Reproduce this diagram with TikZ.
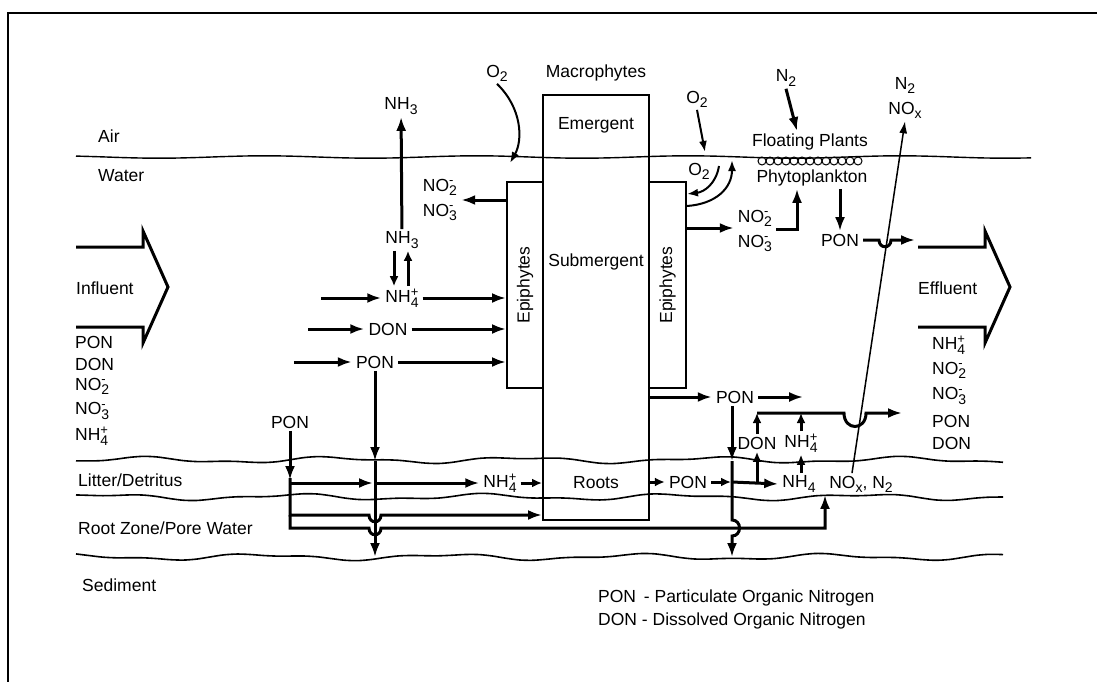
\documentclass[tikz,border=0pt]{standalone}
\usepackage{fontspec}
\setmainfont{Liberation Sans}
\usetikzlibrary{arrows.meta,calc,positioning}
\newcommand{\chsub}[2]{#1\raisebox{-.45ex}{\fontsize{14}{14}\selectfont #2}}
\newcommand{\chion}[3]{#1\rlap{\raisebox{.7ex}{\fontsize{13}{13}\selectfont #3}}\raisebox{-.45ex}{\fontsize{14}{14}\selectfont #2}}

\begin{document}
\begin{tikzpicture}[x=1pt,y=-1pt,>={Latex[length=14pt,width=10pt]},
  font=\fontsize{17.5}{25}\selectfont,every node/.style={inner xsep=4pt,inner ysep=2.5pt},
  flow/.style={line width=3pt,->},
  flowsm/.style={line width=3pt,-{Latex[length=10pt,width=9pt]}},
  pipe/.style={line width=3pt,line join=miter},
  gas/.style={line width=2pt,-{Latex[length=11pt,width=8pt]}},
  plantbox/.style={draw,line width=2pt,inner sep=0pt},
  ground/.style={line width=1.6pt}]
\useasboundingbox (0,0) rectangle (1097,682);
\draw[line width=2pt] (8,682) -- (8,13) -- (1097,13);
% surface and soil layers
\draw[line width=1.4pt] plot[smooth,domain=76:1031,samples=40] (\x,{157-1.2*sin(1.7*\x)});
\foreach \yy/\ph in {460/0,497/70,557/140}
  \draw[ground] plot[smooth,domain=76:1003,samples=70] (\x,{\yy+2.5*sin(1.9*\x+\ph)+1.2*sin(4.3*\x)});
\node[anchor=west] (air) at (94,136) {Air};
\node[anchor=west] (water) at (94,176) {Water};
\node[anchor=west] (litter) at (74,480) {Litter/Detritus};
\node[anchor=west] (rootz) at (74,528) {Root Zone/Pore Water};
\node[anchor=west] (sedi) at (78,585) {Sediment};
% plants
\node[plantbox,minimum width=106pt,minimum height=425pt] (mac) at (596,307.5) {};
\node[plantbox,minimum width=36pt,minimum height=206pt] (epL) at (525,285) {};
\node[plantbox,minimum width=37pt,minimum height=206pt] (epR) at (667.5,285) {};
\node[rotate=90] (epLt) at (525,285) {Epiphytes};
\node[rotate=90] (epRt) at (667.5,285) {Epiphytes};
\node (macl) at (596,73) {Macrophytes};
\node (emerg) at (596,125) {Emergent};
\node (subm) at (596,262) {Submergent};
\node (roots) at (596,483) {Roots};
% influent / effluent
\draw[pipe] (76,247) -- (143,247) -- (143,231) -- (168,287) -- (143,343) -- (143,327) -- (76,327);
\draw[pipe] (918,247) -- (985,247) -- (985,231) -- (1010,287) -- (985,343) -- (985,327) -- (918,327);
\node[anchor=west] (infl) at (72,288) {Influent};
\node[anchor=west] (effl) at (914,288) {Effluent};
\foreach \t/\yy [count=\i] in {PON/342,DON/364,{\chion{NO}{2}{-}}/386,{\chion{NO}{3}{-}}/411,{\chion{NH}{4}{+}}/436}
  \node[anchor=west,inner ysep=0pt] (in\i) at (71,\yy) {\t};
\foreach \t/\yy [count=\i] in {{\chion{NH}{4}{+}}/345,{\chion{NO}{2}{-}}/370,{\chion{NO}{3}{-}}/396,PON/421,DON/443}
  \node[anchor=west,inner ysep=0pt] (out\i) at (928,\yy) {\t};
% water column, left
\node (nh3a) at (401,106) {\chsub{NH}{3}};
\node (nh3b) at (402,240) {\chsub{NH}{3}};
\node (nh4a) at (402,298) {\chion{NH}{4}{+}};
\node (dona) at (388,329) {DON};
\node (pona) at (375,362) {PON};
\node[align=center] (noxa) at (440,200) {\chion{NO}{2}{-}\\\chion{NO}{3}{-}};
\node (o2a) at (497,73) {\chsub{O}{2}};
\draw[flow] (nh3b) -- (nh3a);
\draw[flowsm] ([xshift=-8pt]nh3b.south) -- ([xshift=-8pt]nh4a.north);
\draw[flowsm] ([xshift=6pt]nh4a.north) -- ([xshift=6pt]nh3b.south);
\draw[flow] ([xshift=-60pt]nh4a.west) -- (nh4a.west);
\draw[flow] ([xshift=-56pt]dona.west) -- (dona.west);
\draw[flow] ([xshift=-58pt]pona.west) -- (pona.west);
\foreach \n in {nh4a,dona,pona} \draw[flow] (\n.east) -- (\n -| epL.west);
\draw[flow] (epL.west |- noxa) -- (noxa.east);
\draw[gas] (o2a.south) .. controls (522,108) and (523,140) .. (510,163);
% water column, right
\node (o2b) at (697,99) {\chsub{O}{2}};
\node (o2c) at (699,171) {\chsub{O}{2}};
\draw[gas] (o2b.south) -- (705,152);
\draw[gas] (epR.east |- 0,206) .. controls (716,204) and (732,188) .. (732,160);
\draw[gas] (719,166) .. controls (716,184) and (704,192) .. (epR.east |- 0,194);
\node[align=center] (noxb) at (755,231) {\chion{NO}{2}{-}\\\chion{NO}{3}{-}};
\node (float) at (810,142) {Floating Plants};
\node (phyto) at (812,178) {Phytoplankton};
\foreach \i in {0,...,12} \draw[line width=1pt] (762+8*\i,161) circle (4);
\node (n2a) at (786,78) {\chsub{N}{2}};
\node[align=center] (gasout) at (905,98) {\chsub{N}{2}\\\chsub{NO}{x}};
\node (ponc) at (840,240) {PON};
\draw[flow] (epR.east |- 0,228) -- (noxb.west |- 0,228);
\draw[flow] (noxb.east |- 0,229) -| (phyto.south -| 797,0);
\draw[flow] (n2a.south) -- (float.north -| 797,0);
\draw[flow] (phyto.south -| ponc) -- (ponc.north);
\draw[flow] (ponc.east) -- (879,240) .. controls (879,249) and (891,249) .. (891,240) -- (915,240);
% bottom, left
\node (ponb) at (290,422) {PON};
\node (nh4m) at (500,483) {\chion{NH}{4}{+}};
\draw[flow] (pona.south) -- (pona.south |- 0,461);
\draw[flow] (pona.south |- 0,461) -- (pona.south |- 0,557);
\draw[flow] (ponb.south) -- (ponb.south |- 0,480);
\draw[flow] (ponb.south |- 0,483) -- (373,483);
\draw[flow] (375,483) -- (nh4m.west);
\draw[flowsm] (nh4m.east) -- (nh4m -| mac.west);
\draw[flow] (ponb.south |- 0,478) -- (290,515) -- (369,515) .. controls (369,524) and (381,524) .. (381,515) -- (mac.west |- 0,515);
% bottom, right
\node (pond) at (735,397) {PON};
\node (pone) at (688,482) {PON};
\node (nh4r) at (799,484) {\chsub{NH}{4}};
\node (noxn) at (861,484) {\chsub{NO}{x}, \chsub{N}{2}};
\node (donr) at (757,443) {DON};
\node (nh4s) at (801,443) {\chion{NH}{4}{+}};
\draw[flow] (290,515) -- (290,528) -- (369,528) .. controls (369,537) and (381,537) .. (381,528) -- (825,528) -- (noxn.south -| 825,0);
\draw[flow] (mac.east |- pond) -- (pond.west);
\draw[flow] (pond.east) -- ++(45,0);
\draw[flow] (pond.south -| 732,0) -- (732,461);
\draw[flow] (732,461) -- (732,520) .. controls (742,520) and (742,536) .. (732,536) -- (732,557);
\draw[flowsm] (mac.east |- pone) -- (pone.west);
\draw[flowsm] (pone.east) -- (731,482);
\draw[flow] (732,482) -- (nh4r.west);
\draw[flowsm] (donr |- 0,482) -- (donr.south);
\draw[flowsm] (nh4r.north -| nh4s) -- (nh4s.south);
\draw[flowsm] (donr.north) -- (donr |- 0,413);
\draw[flowsm] (nh4s.north) -- (nh4s |- 0,413);
\draw[flow] (donr |- 0,413) -- (844,413) .. controls (844,431) and (866,431) .. (866,413) -- (902,413);
\draw[line width=1.5pt,-{Latex[length=12pt,width=8pt]}] ([xshift=-9pt]noxn.north) -- (gasout.south);
% legend
\node[anchor=west] (leg1) at (594,598) {PON \,- Particulate Organic Nitrogen};
\node[anchor=west] (leg2) at (594,621) {DON - Dissolved Organic Nitrogen};
\end{tikzpicture}
\end{document}
